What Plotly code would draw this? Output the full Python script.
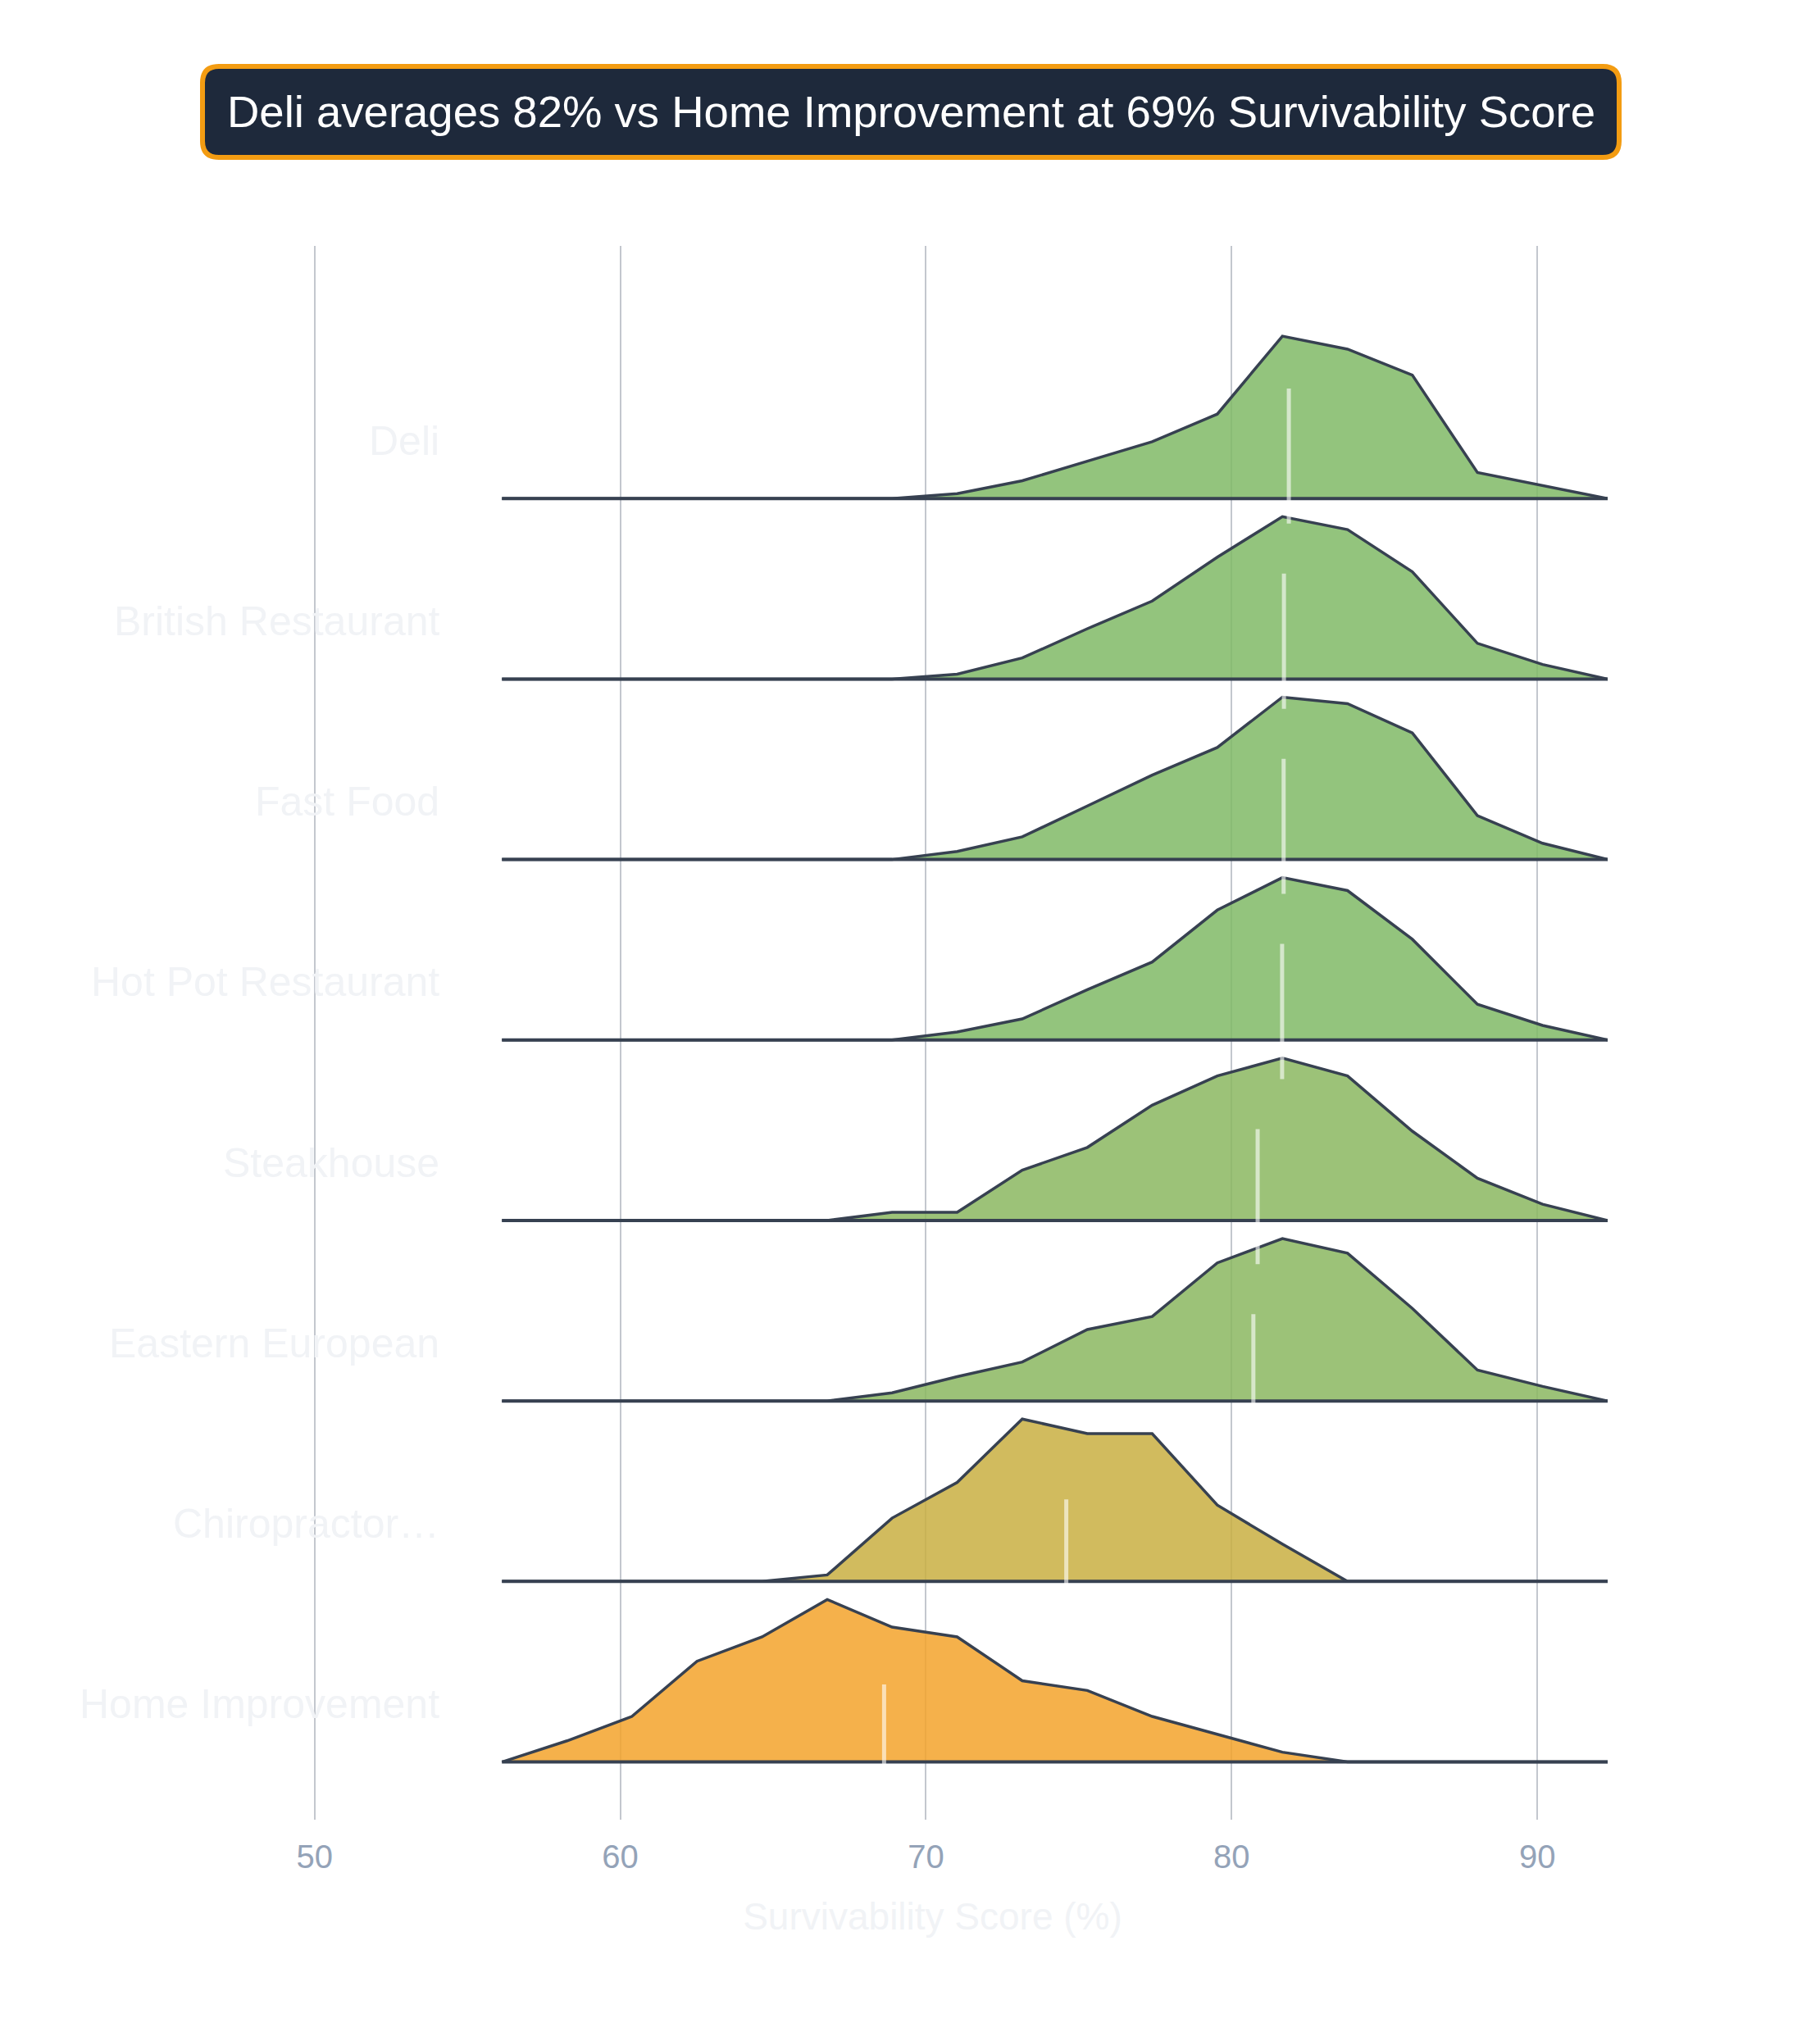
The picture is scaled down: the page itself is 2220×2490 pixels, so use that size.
#!/usr/bin/env python3
"""
Ridgeline of survivability scores by business category
"""

import plotly.graph_objs as go

# Categories, top ridge first
categories = ["Deli", "British Restaurant", "Fast Food", "Hot Pot Restaurant",
              "Steakhouse", "Eastern European", "Chiropractor…", "Home Improvement"]

# Mean survivability score per category (%)
means = [81.87, 81.71, 81.70, 81.65, 80.85, 80.71, 74.59, 68.63]

# Shared evaluation grid for the density curves
x_grid = [56.13, 58.26, 60.38, 62.51, 64.64, 66.77, 68.89, 71.02, 73.15,
          75.28, 77.40, 79.53, 81.66, 83.79, 85.91, 88.04, 90.17, 92.30]

# Relative density on the grid (peak = 1)
deli = [0, 0, 0, 0, 0, 0, 0, 0.03, 0.11, 0.23, 0.35, 0.52, 1.0, 0.92, 0.76, 0.16, 0.08, 0]
british = [0, 0, 0, 0, 0, 0, 0, 0.03, 0.13, 0.31, 0.48, 0.75, 1.0, 0.92, 0.66, 0.22, 0.09, 0]
fast_food = [0, 0, 0, 0, 0, 0, 0, 0.05, 0.14, 0.33, 0.52, 0.69, 1.0, 0.96, 0.78, 0.27, 0.10, 0]
hot_pot = [0, 0, 0, 0, 0, 0, 0, 0.05, 0.13, 0.31, 0.48, 0.80, 1.0, 0.92, 0.62, 0.22, 0.09, 0]
steakhouse = [0, 0, 0, 0, 0, 0, 0.05, 0.05, 0.31, 0.45, 0.71, 0.89, 1.0, 0.89, 0.55, 0.26, 0.10, 0]
eastern = [0, 0, 0, 0, 0, 0, 0.05, 0.15, 0.24, 0.44, 0.52, 0.85, 1.0, 0.91, 0.57, 0.19, 0.09, 0]
chiro = [0, 0, 0, 0, 0, 0.04, 0.39, 0.61, 1.0, 0.91, 0.91, 0.47, 0.23, 0, 0, 0, 0, 0]
home = [0, 0.13, 0.28, 0.62, 0.77, 1.0, 0.83, 0.77, 0.50, 0.44, 0.28, 0.17, 0.06, 0, 0, 0, 0, 0]
densities = [deli, british, fast_food, hot_pot, steakhouse, eastern, chiro, home]

fills = ["rgba(128,186,102,0.85)", "rgba(128,186,102,0.85)",
         "rgba(128,186,102,0.85)", "rgba(128,186,102,0.85)",
         "rgba(139,183,96,0.85)", "rgba(139,183,96,0.85)",
         "rgba(201,175,66,0.85)", "rgba(243,163,44,0.85)"]

title_text = "Deli averages 82% vs Home Improvement at 69% Survivability Score"

FONT = "Helvetica Neue, Helvetica, Arial, Liberation Sans, sans-serif"
OUTLINE = "#374151"
# page body keeps an 8px margin, so the figure is a bit smaller than the window
W, H = 2212, 2482
ML, MR, MT, MB = 306, 259, 292, 270
OFF = 8


def px(x):
    # window pixel -> paper x
    return (x - OFF - ML) / (W - ML - MR)


def py(y):
    # window pixel -> paper y
    return (H - MB - (y - OFF)) / (H - MT - MB)


def rounded_box(x0, y0, x1, y1, r):
    return (f"M {px(x0 + r)},{py(y0)} L {px(x1 - r)},{py(y0)} "
            f"Q {px(x1)},{py(y0)} {px(x1)},{py(y0 + r)} "
            f"L {px(x1)},{py(y1 - r)} Q {px(x1)},{py(y1)} {px(x1 - r)},{py(y1)} "
            f"L {px(x0 + r)},{py(y1)} Q {px(x0)},{py(y1)} {px(x0)},{py(y1 - r)} "
            f"L {px(x0)},{py(y0 + r)} Q {px(x0)},{py(y0)} {px(x0 + r)},{py(y0)} Z")


def main():

    n = len(categories)
    fig = go.Figure()

    # Ridges
    for i, (name, dens) in enumerate(zip(categories, densities)):
        row = n - 1 - i
        fig.add_trace(go.Scatter(x=x_grid, y=[row] * len(x_grid), mode='lines',
                                 line=dict(color=OUTLINE, width=4),
                                 showlegend=False, hoverinfo='skip'))
        fig.add_trace(go.Scatter(x=x_grid, y=[row + 0.9 * d for d in dens],
                                 mode='lines', fill='tonexty',
                                 fillcolor=fills[i],
                                 line=dict(color=OUTLINE, width=3.5),
                                 name=name, showlegend=False))

    # Mean markers
    for i, m in enumerate(means):
        row = n - 1 - i
        fig.add_trace(go.Scatter(x=[m, m], y=[row, row + 0.73], yaxis='y2',
                                 mode='lines',
                                 line=dict(color="rgba(255,255,255,0.6)", width=5),
                                 showlegend=False, hoverinfo='skip'))

    # Category labels
    for i, name in enumerate(categories):
        row = n - 1 - i
        fig.add_annotation(x=x_grid[0] - 2, y=row + 0.32, xref='x', yref='y',
                           text=name, showarrow=False, xanchor='right',
                           yanchor='middle',
                           font=dict(family=FONT, size=50, color="#f1f3f6"))

    # Title badge
    fig.add_shape(type='path', xref='paper', yref='paper',
                  path=rounded_box(247, 81, 1975, 192, 20),
                  fillcolor="#1e293b", line=dict(color="#f39c12", width=6))
    fig.add_annotation(x=px(1111), y=py(136.5), xref='paper', yref='paper',
                       text=title_text, showarrow=False,
                       xanchor='center', yanchor='middle',
                       font=dict(family=FONT, size=54.5, color="white"))

    fig.update_layout(
        width=W, height=H,
        margin=dict(l=ML, r=MR, t=MT, b=MB),
        paper_bgcolor="white", plot_bgcolor="white",
        font=dict(family=FONT),
        xaxis=dict(range=[x_grid[0] - 8, x_grid[-1]], tickvals=[50, 60, 70, 80, 90],
                   showgrid=True, gridcolor="#c3c7ce", gridwidth=1.5,
                   zeroline=False, showline=False, ticks='',
                   ticklabelstandoff=18,
                   tickfont=dict(family=FONT, size=40, color="#94a3b8"),
                   title=dict(text="Survivability Score (%)", standoff=35,
                              font=dict(family=FONT, size=46, color="#f1f3f6"))),
        yaxis=dict(range=[-0.32, 8.4], showgrid=False, zeroline=False,
                   showticklabels=False, showline=False),
        yaxis2=dict(range=[0, 8.5], overlaying='y', visible=False),
    )

    fig.write_html("out.html")


if __name__ == "__main__":

    main()
